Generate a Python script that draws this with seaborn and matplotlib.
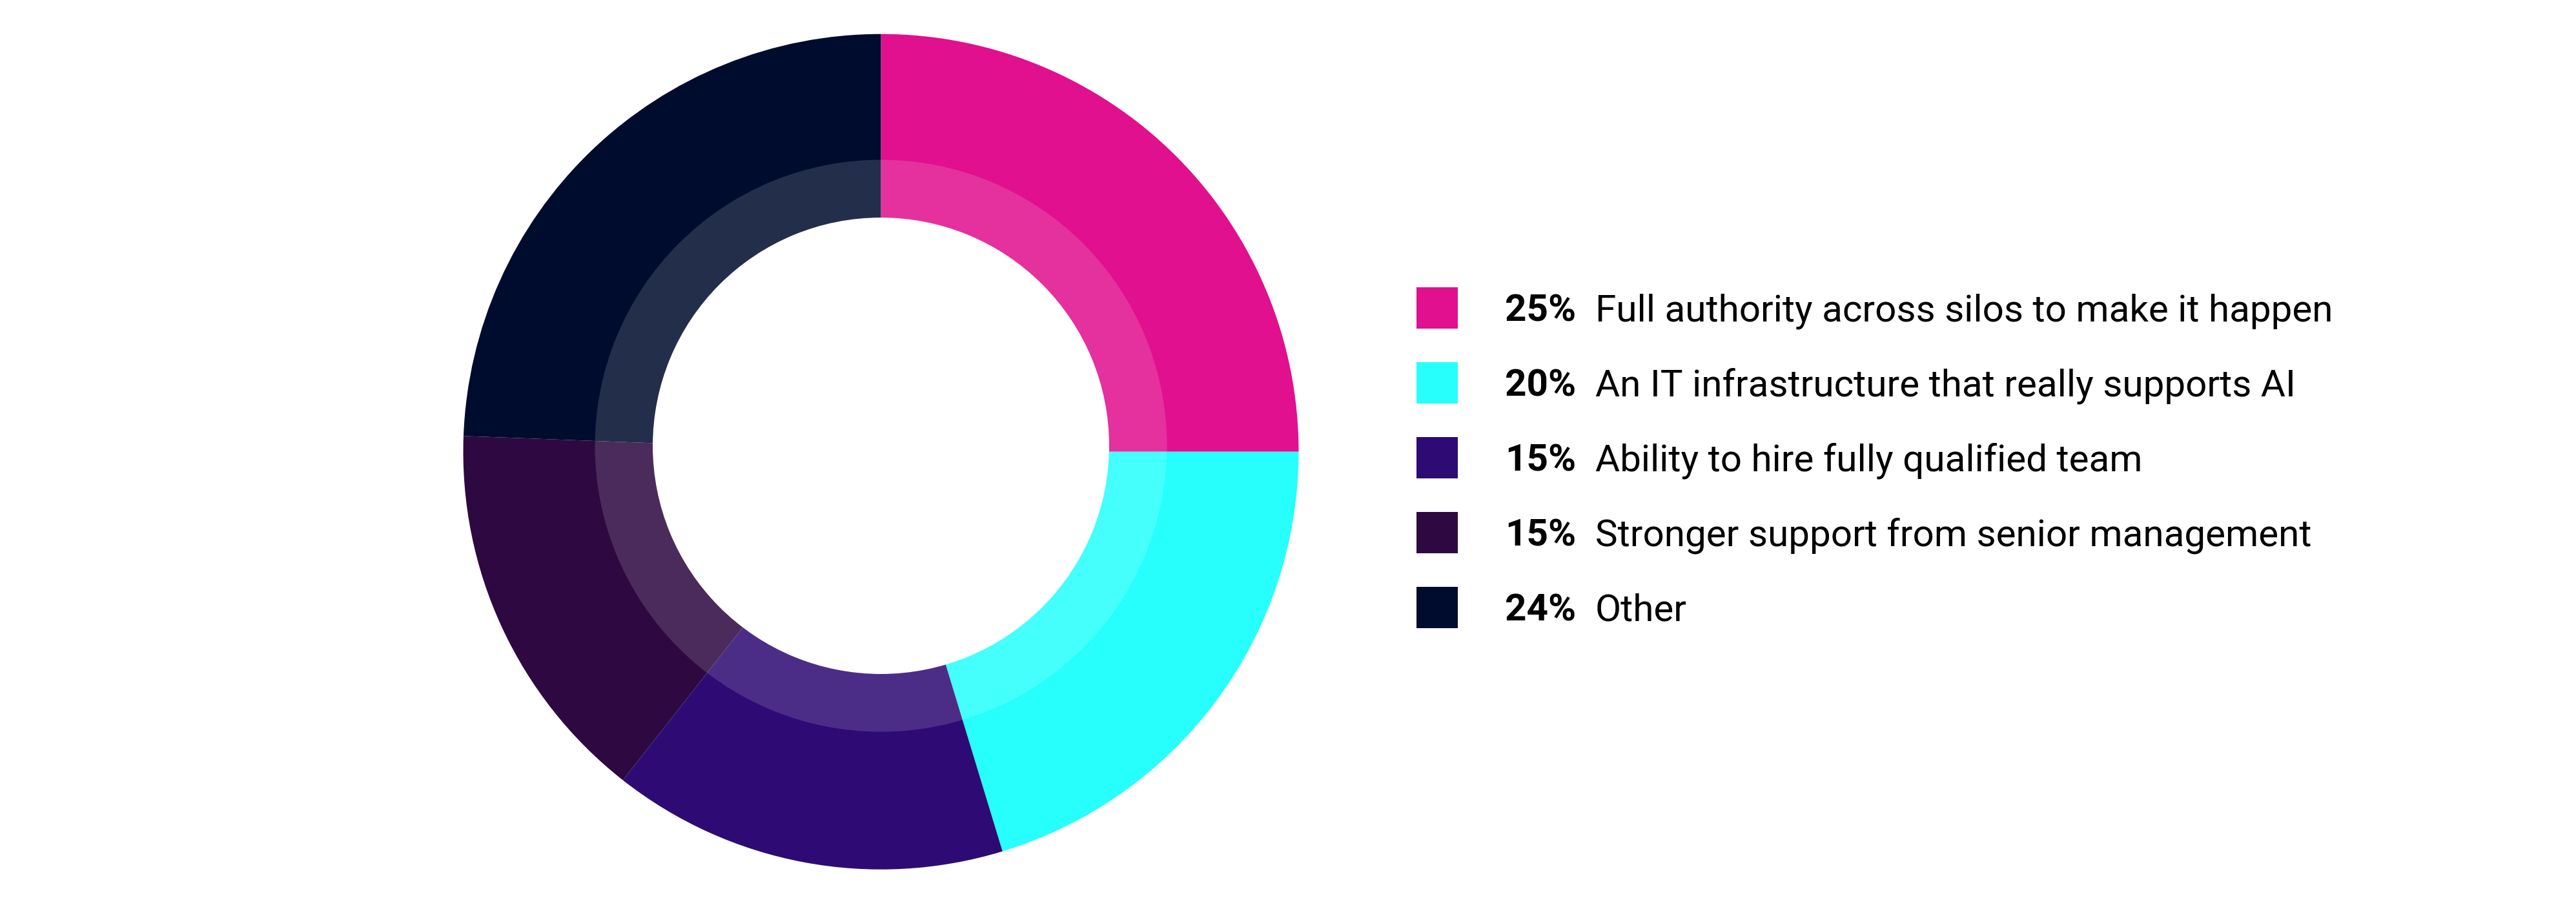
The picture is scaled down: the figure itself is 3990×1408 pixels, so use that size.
import matplotlib
matplotlib.use("Agg")
import matplotlib.pyplot as plt
from matplotlib.patches import Rectangle
import seaborn as sns

# datos del gráfico
etiquetas = [
    "Full authority across silos to make it happen",
    "An IT infrastructure that really supports AI",
    "Ability to hire fully qualified team",
    "Stronger support from senior management",
    "Other",
]
porcentajes = [25, 20, 15, 15, 24]          # lo que dice la leyenda
cuota = [25.0, 20.3, 15.3, 15.0, 24.4]      # ángulos medidos en el dibujo
colores_hex = ["#E0108F", "#26FFFB", "#2E0B74", "#2E0941", "#000C2E"]

W, H, DPI = 3990, 1408, 200

sns.set_theme(style="white")
plt.rcParams["font.family"] = ["Roboto", "DejaVu Sans"]

paleta = sns.color_palette(colores_hex)

fig = plt.figure(figsize=(W / DPI, H / DPI), dpi=DPI)
fig.patch.set_facecolor("white")

# geometría del donut en píxeles
cx, cy, R = 1364.5, 699.7, 647
r_claro, r_hueco = 443, 353.5
desfase = 9.2 / R   # el anillo interior está un poco más arriba
ax = fig.add_axes([(cx - R) / W, (H - cy - R) / H, 2 * R / W, 2 * R / H])

ax.pie(cuota, colors=paleta, radius=1.0, startangle=90, counterclock=False,
       wedgeprops=dict(linewidth=0, antialiased=True))
# velo blanco translúcido y hueco central
ax.pie([1], colors=[(1, 1, 1, 0.14)], radius=r_claro / R, center=(0, desfase),
       wedgeprops=dict(width=(r_claro - r_hueco) / R, linewidth=0))
ax.pie([1], colors=["white"], radius=r_hueco / R, center=(0, desfase),
       wedgeprops=dict(linewidth=0))
ax.set_xlim(-1, 1)
ax.set_ylim(-1, 1)
ax.set_aspect("equal")
ax.axis("off")

# leyenda manual
x_cuadro, lado = 2194, 64
x_pct, x_txt = 2331, 2471
y0, paso = 477, 116
fs = 21
for i, (lab, pct, col) in enumerate(zip(etiquetas, porcentajes, paleta)):
    yc = y0 + i * paso
    fig.patches.append(Rectangle((x_cuadro / W, (H - yc - lado / 2) / H), lado / W, lado / H,
                                 transform=fig.transFigure, facecolor=col, edgecolor="none"))
    yb = (H - (yc + 21)) / H
    fig.text(x_pct / W, yb, f"{pct}%", fontsize=fs, fontweight="bold", color="black",
             va="baseline", ha="left")
    fig.text(x_txt / W, yb, lab, fontsize=fs, color="black", va="baseline", ha="left")

fig.savefig("out.png", dpi=DPI, facecolor="white")
plt.close(fig)
